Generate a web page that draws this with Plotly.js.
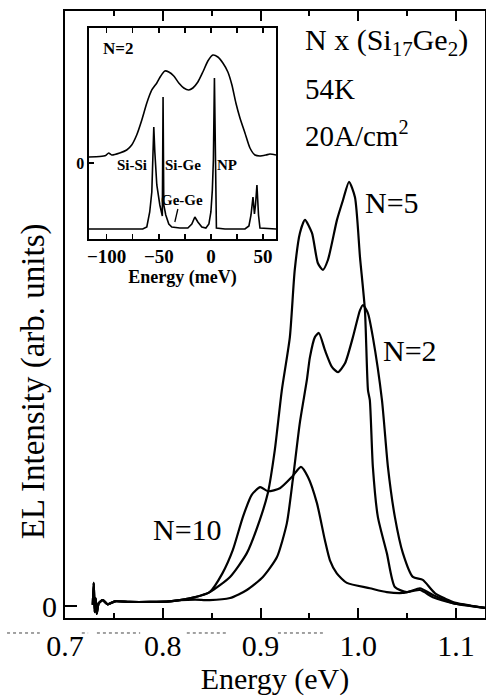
<!DOCTYPE html>
<html>
<head>
<meta charset="utf-8">
<script src="https://cdn.plot.ly/plotly-3.0.1.min.js"></script>
<style>html,body{margin:0;padding:0;background:#fff;}#chart{width:486px;height:696px;}</style>
</head>
<body>
<div id="chart"></div>
<script>
// ---- Main panel: EL spectra (energy in eV, intensity in arb. units) ----
const n10Energy = [0.7284,0.7294,0.7304,0.7314,0.7324,0.7345,0.7386,0.7437,0.751,0.766,0.787,0.807,0.8174,
  0.833,0.848,0.861,0.8716,0.882,0.891,0.8996,0.9075,0.9198,0.9321,0.9413,0.9485,0.9577,0.9658,0.971,0.978,
  0.9883,1.0118,1.0292,1.0456,1.063,1.0763,1.0968,1.1172,1.1296];
const n10Intensity = [0.2,3.9,-1.0,1.3,-1.3,0.5,1.0,0.3,0.8,0.7,0.7,0.8,1.0,
  1.5,2.35,5.5,9.4,15.0,18.7,20.0,19.3,19.8,21.7,23.4,21.7,17.3,11.1,7.7,5.5,
  3.9,3.0,2.35,2.2,2.7,1.5,0.5,0.0,-0.3];

const n5Energy = [0.7284,0.7294,0.7304,0.7314,0.7324,0.7345,0.7386,0.7437,0.751,0.766,0.787,0.807,0.8174,
  0.833,0.848,0.8688,0.886,0.8993,0.9075,0.9146,0.9218,0.93,0.935,0.9403,0.9454,0.9526,0.9587,0.9638,0.969,
  0.9782,0.9843,0.9905,0.9966,1.0017,1.0068,1.0099,1.0118,1.0149,1.02,1.0292,1.0374,1.0497,1.063,1.0763,1.0968,1.1296];
const n5Intensity = [0.2,3.9,-1.0,1.3,-1.3,0.5,1.0,0.3,0.8,0.7,0.7,0.8,1.0,
  1.5,2.35,4.9,8.9,14.5,19.0,26.2,36.3,45.2,56.5,62.7,64.9,62.7,57.6,56.5,58.2,
  64.9,68.2,71.3,68.7,58.7,49.7,36.3,34.6,23.4,15.0,8.9,3.2,2.35,3.0,1.85,0.5,-0.3];

const n2Energy = [0.7284,0.7294,0.7304,0.7314,0.7324,0.7345,0.7386,0.7437,0.751,0.766,0.787,0.807,0.8174,
  0.833,0.848,0.8688,0.886,0.9024,0.9167,0.9269,0.933,0.9402,0.9474,0.9505,0.9556,0.9597,0.9659,0.973,0.9792,
  0.9864,0.9945,1.0017,1.0048,1.0099,1.0149,1.0242,1.0303,1.0374,1.0456,1.0558,1.066,1.0783,1.0968,1.1296];
const n2Intensity = [0.2,3.9,-1.0,1.3,-1.3,0.5,1.0,0.3,0.8,0.7,0.7,0.8,1.0,
  1.1,1.0,1.35,2.7,4.9,8.2,13.9,21.2,30.8,38.0,41.8,45.2,45.9,43.0,40.2,39.3,
  40.8,45.2,49.7,50.6,49.2,45.2,34.6,23.4,15.0,8.9,4.9,4.4,2.2,0.7,-0.3];

// ---- Inset: N=2 spectra vs energy (meV) ----
const insetBroadEnergy = [-117,-106.7,-101,-98.1,-95.2,-87.5,-80.8,-76,-71.2,-66.3,-61.5,-56.7,-51.9,-48.1,-44.2,
  -40.4,-35.6,-30.8,-26,-21.2,-17.3,-12.5,-7.7,-2.9,1.9,6.7,11.5,16.3,20.2,24,27.9,32.7,37.5,42.3,47.1,52.9,56.7,62.5];
const insetBroadIntensity = [0.6,0.65,0.75,1.0,0.8,1.0,1.3,1.8,2.8,4.3,6.0,7.3,8.0,8.7,9.2,
  9.1,8.7,8.0,7.5,7.3,7.5,8.1,9.1,10.2,10.8,10.6,10.0,9.1,7.8,6.0,4.5,3.0,1.5,0.8,0.7,0.8,0.9,0.8];

const insetSharpEnergy = [-117,-65.4,-61.5,-58.7,-56.7,-55.5,-54.8,-53.8,-51.9,-49,-46.6,-45.9,-45.2,-43.3,-40.4,
  -37.5,-29.8,-22.1,-18.3,-15.4,-12.5,-8.7,-4.8,-1.9,0,1.4,2.4,3.4,4.3,5.3,13.5,32.7,36.5,38.5,40.4,41.8,42.8,44.2,45.7,47.1,62.5];
const insetSharpIntensity = [-6.6,-6.6,-6.4,-4.9,-2.9,0.3,3.6,1.1,-2.2,-4.2,-5.3,6.6,-4.2,-5.2,-6.1,
  -6.4,-6.5,-6.5,-6.1,-5.4,-5.9,-6.4,-6.5,-6.1,-4.9,-2.7,0.3,8.5,-0.7,-6.5,-6.6,-6.6,-6.3,-5.2,-3.4,-5.1,-4.2,-2.2,-5.2,-6.5,-6.6];

const serif = '"Liberation Serif", "Times New Roman", Times, serif';
const mainLine = {color:'#000', width:2.2, shape:'spline', smoothing:0.6};
const insetLine = {color:'#000', width:1.6};
const insetSmooth = {color:'#000', width:1.6, shape:'spline', smoothing:0.6};

const traces = [
  {x:n10Energy, y:n10Intensity, type:'scatter', mode:'lines', line:mainLine, name:'N=10', xaxis:'x', yaxis:'y'},
  {x:n5Energy, y:n5Intensity, type:'scatter', mode:'lines', line:mainLine, name:'N=5', xaxis:'x', yaxis:'y'},
  {x:n2Energy, y:n2Intensity, type:'scatter', mode:'lines', line:mainLine, name:'N=2', xaxis:'x', yaxis:'y'},
  {x:insetBroadEnergy, y:insetBroadIntensity, type:'scatter', mode:'lines', line:insetSmooth, name:'broad', xaxis:'x2', yaxis:'y2'},
  {x:insetSharpEnergy, y:insetSharpIntensity, type:'scatter', mode:'lines', line:insetLine, name:'sharp', xaxis:'x2', yaxis:'y2'}
];

const bigFont = {family:serif, size:30, color:'#000'};
const midFont = {family:serif, size:29, color:'#000'};
const insetFont = {family:serif, size:15, color:'#000', weight:'bold'};
const insetAxisFont = {family:serif, size:18, color:'#000', weight:'bold'};

const layout = {
  width:486, height:696,
  margin:{l:65, r:1, t:11, b:78},
  paper_bgcolor:'#fff', plot_bgcolor:'#fff',
  font:{family:serif, color:'#000'},
  showlegend:false,
  xaxis:{
    range:[0.7,1.1296], tickmode:'linear', tick0:0.7, dtick:0.1, tickformat:'.1f',
    ticks:'inside', ticklen:10, tickwidth:2, tickcolor:'#000',
    minor:{dtick:0.05, tick0:0.7, ticks:'inside', ticklen:5, tickwidth:2, tickcolor:'#000', showgrid:false},
    showline:true, linewidth:2, linecolor:'#000', mirror:'ticks',
    showgrid:false, zeroline:false, tickfont:bigFont,
    title:{text:'Energy (eV)', font:bigFont, standoff:2}
  },
  yaxis:{
    range:[-2,100], tickmode:'array', tickvals:[0], ticktext:['0'],
    ticks:'inside', ticklen:12, tickwidth:2, tickcolor:'#000',
    showline:true, linewidth:2, linecolor:'#000', mirror:true,
    showgrid:false, zeroline:false, tickfont:bigFont
  },
  xaxis2:{
    domain:[0.0571,0.5024], anchor:'y2', range:[-117,62.5],
    tickmode:'linear', tick0:0, dtick:50,
    ticks:'inside', ticklen:5, tickwidth:1.5, tickcolor:'#000',
    minor:{dtick:25, tick0:0, ticks:'inside', ticklen:5, tickwidth:1.5, tickcolor:'#000', showgrid:false},
    showline:true, linewidth:1.6, linecolor:'#000', mirror:'ticks',
    showgrid:false, zeroline:false, tickfont:{family:serif, size:19, color:'#000', weight:'bold'},
    title:{text:'Energy (meV)', font:insetAxisFont, standoff:0}
  },
  yaxis2:{
    domain:[0.6244,0.972], anchor:'x2', range:[-7.6,13.5],
    tickmode:'array', tickvals:[0], ticktext:['0'],
    ticks:'inside', ticklen:5, tickwidth:1.5, tickcolor:'#000',
    showline:true, linewidth:1.6, linecolor:'#000', mirror:true,
    showgrid:false, zeroline:false, tickfont:{family:serif, size:16, color:'#000', weight:'bold'}
  },
  annotations:[
    {xref:'paper', yref:'paper', x:-0.076, y:0.39, xanchor:'center', yanchor:'middle', textangle:-90, showarrow:false,
     text:'EL Intensity (arb. units)', font:{family:serif, size:33, color:'#000'}},
    {xref:'paper', yref:'paper', x:0.567, y:0.949, xanchor:'left', yanchor:'middle', showarrow:false,
     text:'N x (Si<sub>17</sub>Ge<sub>2</sub>)', font:{family:serif, size:30, color:'#000'}},
    {xref:'paper', yref:'paper', x:0.567, y:0.8716, xanchor:'left', yanchor:'middle', showarrow:false,
     text:'54K', font:midFont},
    {xref:'paper', yref:'paper', x:0.567, y:0.797, xanchor:'left', yanchor:'middle', showarrow:false,
     text:'20A/cm<sup>2</sup>', font:midFont},
    {xref:'paper', yref:'paper', x:0.7786, y:0.6837, xanchor:'center', yanchor:'middle', showarrow:false,
     text:'N=5', font:bigFont},
    {xref:'paper', yref:'paper', x:0.8214, y:0.4399, xanchor:'center', yanchor:'middle', showarrow:false,
     text:'N=2', font:bigFont},
    {xref:'paper', yref:'paper', x:0.2905, y:0.1466, xanchor:'center', yanchor:'middle', showarrow:false,
     text:'N=10', font:bigFont},
    {xref:'x2', yref:'y2', x:-89.4, y:11.4, showarrow:false, text:'N=2', font:{family:serif, size:17, color:'#000', weight:'bold'}},
    {xref:'x2', yref:'y2', x:-76, y:-0.2, showarrow:false, text:'Si-Si', font:insetFont},
    {xref:'x2', yref:'y2', x:-26.9, y:-0.2, showarrow:false, text:'Si-Ge', font:insetFont},
    {xref:'x2', yref:'y2', x:15.4, y:-0.2, showarrow:false, text:'NP', font:insetFont},
    {xref:'x2', yref:'y2', x:-27.9, y:-3.7, showarrow:false, text:'Ge-Ge', font:insetFont}
  ],
  shapes:[
    {type:'line', xref:'x2', yref:'y2', x0:-31.7, y0:-4.6, x1:-34.6, y1:-5.9, line:{color:'#000', width:1.3}},
    {type:'line', xref:'paper', yref:'paper', x0:-0.138, x1:-0.06, y0:-0.0247, y1:-0.0247, line:{color:'#444', width:1, dash:'dot'}},
    {type:'line', xref:'paper', yref:'paper', x0:0.04, x1:0.055, y0:-0.0247, y1:-0.0247, line:{color:'#444', width:1, dash:'dot'}},
    {type:'line', xref:'paper', yref:'paper', x0:0.076, x1:0.179, y0:-0.0247, y1:-0.0247, line:{color:'#444', width:1, dash:'dot'}},
    {type:'line', xref:'paper', yref:'paper', x0:0.29, x1:0.386, y0:-0.0247, y1:-0.0247, line:{color:'#444', width:1, dash:'dot'}},
    {type:'line', xref:'paper', yref:'paper', x0:0.507, x1:0.614, y0:-0.0247, y1:-0.0247, line:{color:'#444', width:1, dash:'dot'}}
  ]
};

Plotly.newPlot('chart', traces, layout, {staticPlot:true, displayModeBar:false});
</script>
</body>
</html>
